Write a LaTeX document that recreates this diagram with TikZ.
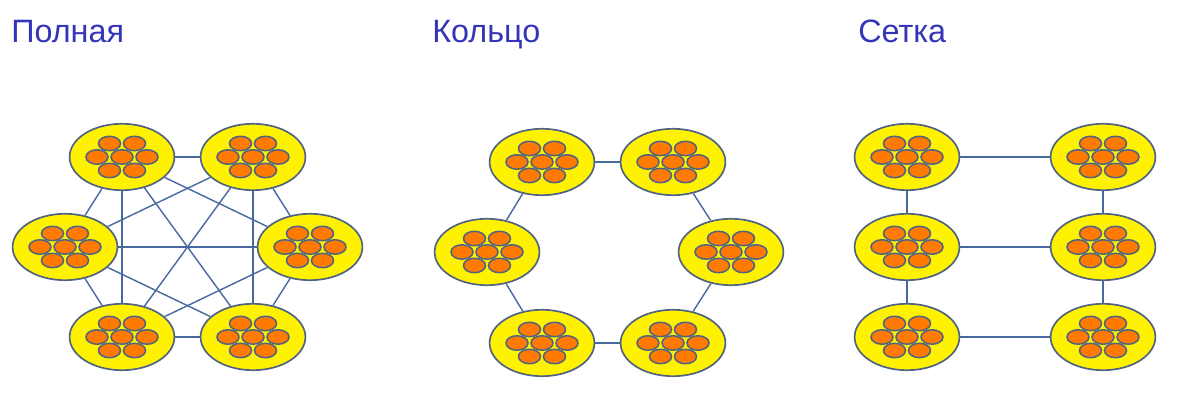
\documentclass[tikz,border=0pt]{standalone}
\usepackage{fontspec}
\setmainfont{Liberation Sans}
\usetikzlibrary{shapes.geometric}
\definecolor{titleblue}{RGB}{52,52,184}
\definecolor{linkblue}{RGB}{72,104,160}
\definecolor{rimgrey}{RGB}{80,100,130}
\definecolor{cellyellow}{RGB}{255,242,0}
\definecolor{coreorange}{RGB}{255,122,0}

\tikzset{
  bigcell/.style={ellipse,draw=rimgrey,line width=1.2pt,fill=cellyellow,
    minimum width=2.62cm,minimum height=1.66cm,inner sep=0pt},
  smallcell/.style={ellipse,draw=rimgrey,line width=1.1pt,fill=coreorange,
    minimum width=0.55cm,minimum height=0.36cm,inner sep=0pt},
  link/.style={draw=linkblue,line width=1pt},
  heading/.style={anchor=base west,text=titleblue,font=\fontsize{23}{27}\selectfont,inner sep=0pt}
}

% one cluster: name, x, y (pixels)
\newcommand\cluster[3]{%
  \node[bigcell] (#1) at (#2,#3) {};
  \foreach \dx/\dy [count=\k] in {-12.5/-13.5,12.5/-13.5,-25/0,0/0,25/0,-12.5/13.5,12.5/13.5}
    \node[smallcell] (#1-\k) at (#2+\dx,#3+\dy) {};
}

\begin{document}
\begin{tikzpicture}[x=0.025cm,y=-0.025cm]
  \useasboundingbox (0,0) rectangle (1185,412);

  % titles
  \node[heading] (tfull) at (11,43) {Полная};
  \node[heading] (tring) at (432,43) {Кольцо};
  \node[heading] (tgrid) at (858,43) {Сетка};

  % full
  \cluster{fa}{122}{157}
  \cluster{fb}{253}{157}
  \cluster{fc}{310}{247}
  \cluster{fd}{253}{337}
  \cluster{fe}{122}{337}
  \cluster{ff}{65}{247}
  \foreach \u/\v in {fa/fb,fa/fc,fa/fd,fa/fe,fa/ff,fb/fc,fb/fd,fb/fe,fb/ff,
                     fc/fd,fc/fe,fc/ff,fd/fe,fd/ff,fe/ff}
    \draw[link] (\u) -- (\v);

  % ring
  \cluster{ra}{542}{162}
  \cluster{rb}{673}{162}
  \cluster{rc}{731}{252}
  \cluster{rd}{673}{343}
  \cluster{re}{542}{343}
  \cluster{rf}{487}{252}
  \foreach \u/\v in {ra/rb,rb/rc,rc/rd,rd/re,re/rf,rf/ra}
    \draw[link] (\u) -- (\v);

  % grid
  \cluster{ga}{907}{157}
  \cluster{gb}{1103}{157}
  \cluster{gc}{907}{247}
  \cluster{gd}{1103}{247}
  \cluster{ge}{907}{337}
  \cluster{gf}{1103}{337}
  \foreach \u/\v in {ga/gb,gc/gd,ge/gf,ga/gc,gc/ge,gb/gd,gd/gf}
    \draw[link] (\u) -- (\v);
\end{tikzpicture}
\end{document}
